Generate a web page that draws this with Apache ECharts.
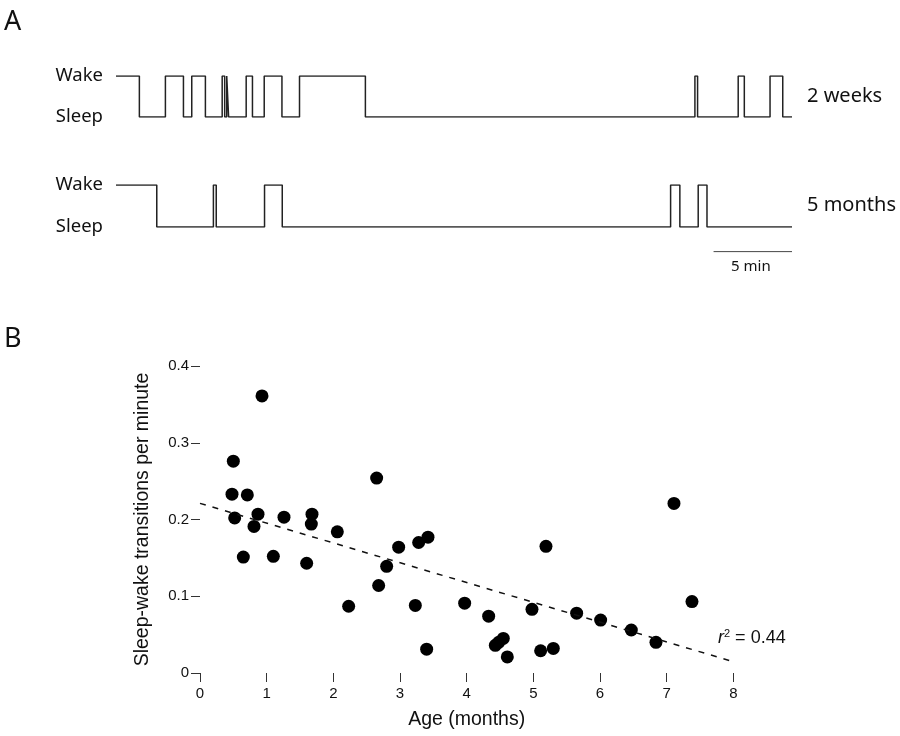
<!DOCTYPE html>
<html><head><meta charset="utf-8">
<script src="https://cdn.jsdelivr.net/npm/echarts@6/dist/echarts.min.js"></script>
<style>html,body{margin:0;padding:0;background:#fff}#c{width:900px;height:736px}</style>
</head><body><div id="c"></div>
<script>
// ---- Panel A: hypnogram transitions (minutes), both start awake ----
const traceDuration = 43.1;
const weeks2Transitions = [1.49, 3.15, 4.30, 4.83, 5.70, 6.77, 6.93, 7.06, 7.18, 8.30, 8.70, 9.45, 10.58, 11.70, 15.90, 36.91, 37.08, 39.67, 40.06, 41.70, 42.51];
const months5Transitions = [2.60, 6.21, 6.39, 9.47, 10.60, 35.36, 35.95, 37.12, 37.68];
const scaleBarMinutes = [38.1, 43.1];
const stateLabels = ['Sleep', 'Wake'];

// ---- Panel B: age (months) vs sleep-wake transitions per minute ----
const ageMonths = [0.50, 0.48, 0.71, 0.52, 0.87, 0.81, 0.93, 1.26, 1.68, 1.67, 2.06, 2.65, 2.98, 3.28, 3.42,
  0.65, 1.10, 1.60, 2.80, 2.68, 2.23, 3.23, 3.40,
  3.97, 4.33, 4.55, 4.43, 4.48, 4.61, 4.98, 5.11, 5.30, 5.19, 5.65, 6.01, 6.47, 6.84, 7.11, 7.38];
const transitionsPerMin = [0.276, 0.233, 0.232, 0.202, 0.207, 0.191, 0.361, 0.203, 0.207, 0.194, 0.184, 0.254, 0.164, 0.170, 0.177,
  0.151, 0.152, 0.143, 0.139, 0.114, 0.087, 0.088, 0.031,
  0.091, 0.074, 0.045, 0.036, 0.040, 0.021, 0.083, 0.029, 0.032, 0.165, 0.078, 0.069, 0.056, 0.040, 0.221, 0.093];
const trendX = [0, 7.95];
const trendY = [0.221, 0.016];
const xTicks = [0, 1, 2, 3, 4, 5, 6, 7, 8];
const yTicks = [0, 0.1, 0.2, 0.3, 0.4];

function stepPoints(transitions, end) {
  let s = 1; const pts = [[0, s]];
  transitions.forEach(t => { pts.push([t, s]); s = 1 - s; pts.push([t, s]); });
  pts.push([end, s]);
  return pts;
}

const traceFont = 'Noto Sans';
const chart = echarts.init(document.getElementById('c'), null, {renderer: 'canvas'});

function traceYAxis(gi) {
  return {
    gridIndex: gi, type: 'value', min: 0, max: 1, interval: 1,
    axisLine: {show: false}, axisTick: {show: false}, splitLine: {show: false},
    axisLabel: {show: true, margin: 13, fontSize: 18.5, fontFamily: traceFont, color: '#111',
      formatter: v => stateLabels[v] }
  };
}
const hiddenX = gi => ({gridIndex: gi, type: 'value', min: 0, max: traceDuration, show: false});

const scatterData = ageMonths.map((a, i) => [a, transitionsPerMin[i]]);

chart.setOption({
  animation: false,
  grid: [
    {left: 116, right: 108, top: 76, height: 41},
    {left: 116, right: 108, top: 185, height: 42},
    {left: 116, right: 108, top: 251, height: 1},
    {left: 200, width: 533.3, top: 366, height: 307}
  ],
  xAxis: [hiddenX(0), hiddenX(1), hiddenX(2), {
    gridIndex: 3, type: 'value', min: xTicks[0], max: xTicks[xTicks.length - 1], interval: 1,
    axisLine: {show: false}, splitLine: {show: false},
    axisTick: {show: true, length: 9, lineStyle: {color: '#333', width: 1}},
    axisLabel: {margin: 13, fontSize: 15, fontFamily: 'Liberation Sans', color: '#111'},
    name: 'Age (months)', nameLocation: 'middle', nameGap: 37,
    nameTextStyle: {fontSize: 19.5, fontFamily: 'Liberation Sans', color: '#111'}
  }],
  yAxis: [traceYAxis(0), traceYAxis(1),
    {gridIndex: 2, type: 'value', min: 0, max: 1, show: false},
    {
      gridIndex: 3, type: 'value', min: yTicks[0], max: yTicks[yTicks.length - 1], interval: 0.1,
      axisLine: {show: false}, splitLine: {show: false},
      axisTick: {show: true, length: 9, lineStyle: {color: '#333', width: 1}},
      axisLabel: {margin: 11, fontSize: 15, fontFamily: 'Liberation Sans', color: '#111',
        formatter: v => v === 0 ? '0' : v.toFixed(1)},
      name: 'Sleep-wake transitions per minute', nameLocation: 'middle', nameGap: 47,
      nameTextStyle: {fontSize: 19.5, fontFamily: 'Liberation Sans', color: '#111'}
    }],
  series: [
    {type: 'line', xAxisIndex: 0, yAxisIndex: 0, data: stepPoints(weeks2Transitions, traceDuration),
      symbol: 'none', lineStyle: {color: '#222', width: 1.5}},
    {type: 'line', xAxisIndex: 1, yAxisIndex: 1, data: stepPoints(months5Transitions, traceDuration),
      symbol: 'none', lineStyle: {color: '#222', width: 1.5}},
    {type: 'line', xAxisIndex: 2, yAxisIndex: 2, data: scaleBarMinutes.map(t => [t, 0.3]),
      symbol: 'none', lineStyle: {color: '#333', width: 1}},
    {type: 'line', xAxisIndex: 3, yAxisIndex: 3, data: trendX.map((x, i) => [x, trendY[i]]),
      symbol: 'none', lineStyle: {color: '#111', width: 1.5, type: [6, 7]}},
    {type: 'scatter', xAxisIndex: 3, yAxisIndex: 3, data: scatterData,
      symbol: 'circle', symbolSize: 13, itemStyle: {color: '#000', opacity: 1}}
  ],
  graphic: [
    {type: 'text', left: 4, top: 9, style: {text: 'A', font: '27px "Noto Sans"', fill: '#111'}},
    {type: 'text', left: 4, top: 326, style: {text: 'B', font: '27px "Noto Sans"', fill: '#111'}},
    {type: 'text', left: 807, top: 86, style: {text: '2 weeks', font: '20px "Noto Sans"', fill: '#111'}},
    {type: 'text', left: 807, top: 195, style: {text: '5 months', font: '20px "Noto Sans"', fill: '#111'}},
    {type: 'text', left: 731, top: 259, style: {text: '5 min', font: '15px "Noto Sans"', fill: '#111'}},
    {type: 'text', left: 718, top: 628, style: {
      text: '{i|r}{s|2}{n| = 0.44}',
      rich: {
        i: {fontStyle: 'italic', fontSize: 18, fontFamily: 'Liberation Sans', fill: '#111', verticalAlign: 'bottom'},
        s: {fontSize: 11, fontFamily: 'Liberation Sans', fill: '#111', verticalAlign: 'top', padding: [0, 0, 8, 0]},
        n: {fontSize: 18, fontFamily: 'Liberation Sans', fill: '#111', verticalAlign: 'bottom'}
      }}}
  ]
});
</script></body></html>
